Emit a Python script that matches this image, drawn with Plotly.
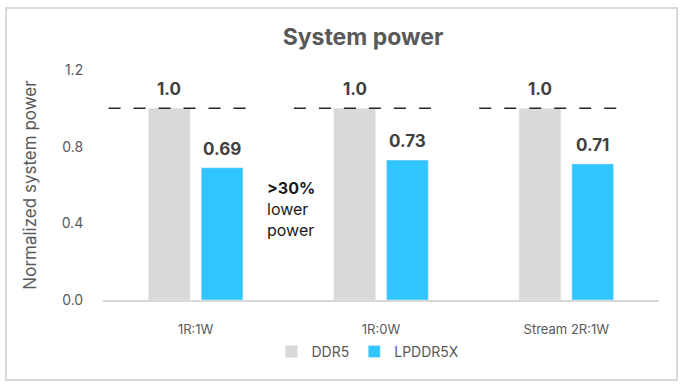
import plotly.graph_objects as go

categories = ["1R:1W", "1R:0W", "Stream 2R:1W"]
ddr5 = [1.0, 1.0, 1.0]
lpddr5x = [0.69, 0.73, 0.71]
ddr5_labels = ["1.0", "1.0", "1.0"]
lp_labels = ["0.69", "0.73", "0.71"]
ref_value = 1.0
y_ticks = [0.0, 0.4, 0.8, 1.2]

FONT = "Inter"
GRAY_TXT = "#595959"

fig = go.Figure()
fig.add_trace(go.Bar(name="DDR5", x=categories, y=ddr5, marker_color="#d9d9d9"))
fig.add_trace(go.Bar(name="LPDDR5X", x=categories, y=lpddr5x, marker_color="#31c5ff"))

# value labels
for i, c in enumerate(categories):
    fig.add_annotation(x=c, y=ddr5[i], text="<b>%s</b>" % ddr5_labels[i], xshift=-26.5,
                       yanchor="bottom", yshift=7, showarrow=False,
                       font=dict(family=FONT, size=17, color="#404040"))
    fig.add_annotation(x=c, y=lpddr5x[i], text="<b>%s</b>" % lp_labels[i], xshift=26.5,
                       yanchor="bottom", yshift=7, showarrow=False,
                       font=dict(family=FONT, size=17, color="#404040"))

# dashed reference lines
for i in range(len(categories)):
    fig.add_shape(type="line", xref="x", yref="y", x0=i - 0.47, x1=i + 0.335,
                  y0=ref_value, y1=ref_value,
                  line=dict(color="#262626", width=1.5, dash="12px,13px"))

fig.add_annotation(x=0.375, y=0.475, xref="x", yref="y", xanchor="left", yanchor="middle",
                   text="<b>>30%</b><br>lower<br>power", align="left", showarrow=False,
                   font=dict(family=FONT, size=16, color="#1a1a1a"))

# outer border
fig.add_shape(type="rect", xref="paper", yref="paper",
              x0=(6 - 103) / 556, x1=(677 - 103) / 556,
              y0=(300 - 380) / 230, y1=(300 - 8) / 230,
              line=dict(color="#d9d9d9", width=2), layer="below")

fig.update_layout(
    width=685, height=388,
    margin=dict(l=103, r=26, t=70, b=88, autoexpand=False),
    paper_bgcolor="white", plot_bgcolor="white",
    barmode="group", bargap=0.43, bargroupgap=0.21,
    title=dict(text="<b>System power</b>", x=363 / 685, xanchor="center",
               y=1 - 37 / 388, yanchor="middle",
               font=dict(family=FONT, size=23, color=GRAY_TXT)),
    font=dict(family=FONT, color=GRAY_TXT),
    xaxis=dict(showline=True, linecolor="#d9d9d9", linewidth=1.5,
               ticks="outside", ticklen=17, tickcolor="rgba(0,0,0,0)", automargin=False,
               tickfont=dict(size=13, color=GRAY_TXT), showgrid=False),
    yaxis=dict(range=[0, 1.2], tickvals=y_ticks, tickformat=".1f", showgrid=False,
               zeroline=False, showline=False, automargin=False,
               ticks="outside", ticklen=16, tickcolor="rgba(0,0,0,0)",
               tickfont=dict(size=14, color=GRAY_TXT),
               title=dict(text="Normalized system power", font=dict(size=17, color=GRAY_TXT),
                          standoff=20)),
    legend=dict(orientation="h", x=(368 - 103) / 556, xanchor="center",
                y=(300 - 352) / 230, yanchor="middle",
                font=dict(size=14, color=GRAY_TXT), itemwidth=30,
                traceorder="normal"),
    showlegend=True,
)

fig.write_html("out.html", config={"displayModeBar": False},
               post_script="document.body.style.margin='0';")
